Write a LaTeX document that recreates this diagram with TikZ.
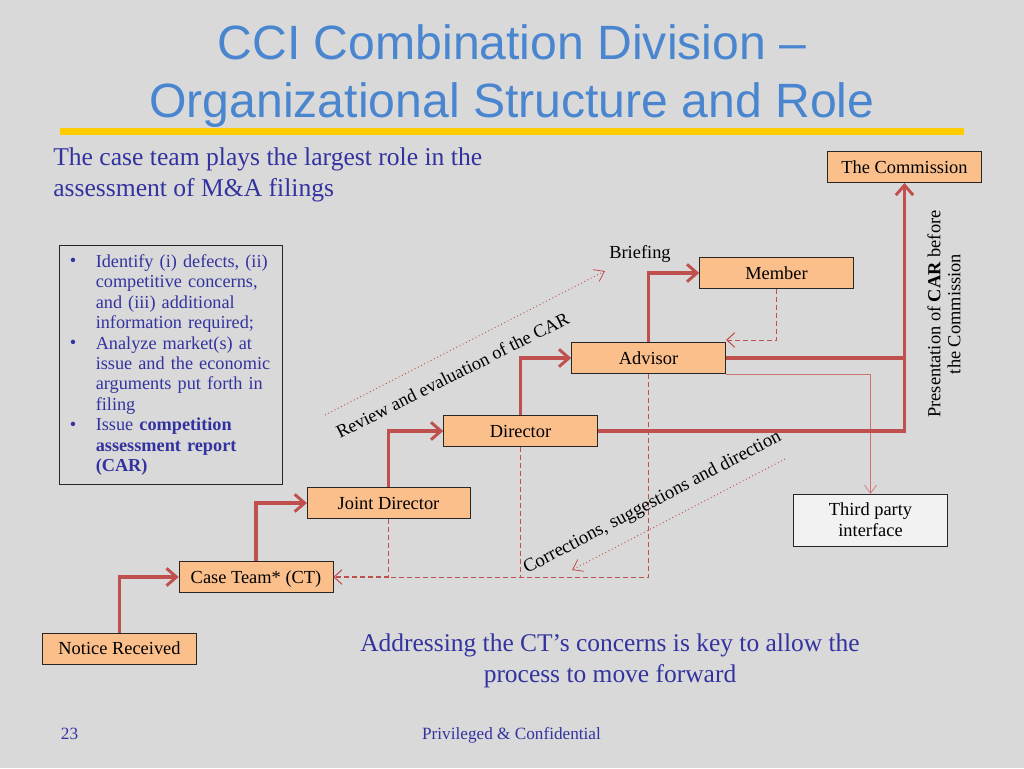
\documentclass[tikz,border=0pt]{standalone}
\usepackage{fontspec}
\setmainfont{Liberation Serif}
\newfontfamily\titlefont{Liberation Sans}
\usetikzlibrary{arrows.meta}
\definecolor{slidebg}{HTML}{D9D9D9}
\definecolor{boxfill}{HTML}{FBBF8C}
\definecolor{linered}{HTML}{C0504D}
\definecolor{titleblue}{HTML}{4A86D0}
\definecolor{textblue}{HTML}{3333A0}
\definecolor{rulegold}{HTML}{FFCC00}
\tikzset{
	stage/.style={draw=black!85,fill=boxfill,minimum width=115.5pt,minimum height=23.5pt,inner sep=0pt,text height=11pt,text depth=2pt,font=\fontsize{13.8}{15.7}\selectfont,align=center},
	up/.style={draw=linered,line width=2.6pt,-{Straight Barb[length=7.5pt,width=13pt,line width=2.2pt]}},
	plainup/.style={draw=linered,line width=2.6pt},
	back/.style={draw=linered,dashed,dash pattern=on 3.6pt off 2.4pt,line width=0.7pt},
	backtip/.style={back,-{Straight Barb[length=6pt,width=11pt,line width=0.8pt]}},
	hint/.style={draw=linered,dotted,line width=0.7pt,-{Straight Barb[length=7pt,width=10pt,line width=0.6pt,sep=0pt]}},
	lbl/.style={font=\fontsize{13.8}{15}\selectfont,align=center,inner sep=0pt}
}
\begin{document}
\begin{tikzpicture}[x=0.75pt,y=-0.75pt,>=stealth,line join=miter]
	\useasboundingbox[fill=slidebg] (0,0) rectangle (1024,768);
	% title
	\node[text=titleblue,font=\titlefont\fontsize{36.1}{43.5}\selectfont,align=center,inner sep=0pt] (title) at (512,76) {CCI Combination Division –\\Organizational Structure and Role};
	\fill[fill=rulegold] (60,128) rectangle (964,134.5);
	\node[anchor=north west,text=textblue,font=\fontsize{19.2}{23}\selectfont,align=left,inner sep=0pt] (lead) at (53,147.5) {The case team plays the largest role in the\\assessment of M\&A filings};
	% boxes
	\node[stage] (comm) at (904.5,167) {The Commission};
	\node[stage] (member) at (776.5,273) {Member};
	\node[stage] (advisor) at (648.5,358) {Advisor};
	\node[stage] (director) at (520.5,431) {Director};
	\node[stage,minimum width=122pt] (joint) at (388.5,503) {Joint Director};
	\node[stage] (team) at (256,577) {Case Team* (CT)};
	\node[stage] (notice) at (119.5,648.5) {Notice Received};
	\node[stage,fill=white!95!black,minimum height=39pt,text height=,text depth=] (third) at (870.5,520) {Third party\\interface};
	\node[draw=black!85,anchor=north west,minimum width=167pt,minimum height=179pt,inner sep=0pt] (tasks) at (59,245) {};
	\node[anchor=north west,text=textblue,inner sep=0pt,font=\fontsize{13.7}{15.35}\selectfont,text width=140pt,align=left] (taskstext) at (95.5,254) {Identify (i) defects, (ii)\\competitive concerns,\\and (iii) additional\\information required;\\Analyze market(s) at\\issue and the economic\\arguments put forth in\\filing\\Issue \textbf{competition}\\\textbf{assessment report}\\\textbf{(CAR)}};
	\node[text=textblue,lbl] (dota) at (73,262) {\textbullet};
	\node[text=textblue,lbl] (dotb) at (73,344) {\textbullet};
	\node[text=textblue,lbl] (dotc) at (73,426) {\textbullet};
	% free ends
	\coordinate (memberbend) at (776.5,340);
	\coordinate (advisortip) at (726,340);
	\coordinate (advisorout) at (726,374);
	\coordinate (thirdbend) at (870.5,374);
	\coordinate (backjoin) at (648.5,577);
	\coordinate (directorjoin) at (520.5,577);
	\coordinate (jointjoin) at (388.5,577);
	\coordinate (reviewa) at (325,415);
	\coordinate (reviewb) at (605,271);
	\coordinate (corra) at (785,459);
	\coordinate (corrb) at (572,570);
	% thin lines
	\draw[back] (advisor.south) -- (backjoin) -- (jointjoin);
	\draw[back] (director.south) -- (directorjoin);
	\draw[back] (joint.south) -- (jointjoin);
	\draw[backtip,line width=1pt] (jointjoin) -- (team.east);
	\draw[backtip] (member.south) -- (memberbend) -- (advisortip);
	\draw[draw=linered!80,line width=0.5pt,-{Straight Barb[length=6pt,width=9pt,line width=0.5pt]}] (advisorout) -- (thirdbend) -- (third.north);
	\draw[hint] (reviewa) -- (reviewb);
	\draw[hint] (corra) -- (corrb);
	% main path
	\draw[up] (notice.north) |- (team.west);
	\draw[up] (team.north) |- (joint.west);
	\draw[up] (joint.north) |- (director.west);
	\draw[up] (director.north) |- (advisor.west);
	\draw[up] (advisor.north) |- (member.west);
	\draw[up] (director.east) -| (comm.south);
	\draw[plainup] (advisor.east) -- (comm.south |- advisor.east);
	% labels
	\node[lbl] (briefing) at (640,254) {Briefing};
	\node[lbl,rotate=26.7] (reviewlbl) at (452.5,375) {Review and evaluation of the CAR};
	\node[lbl,rotate=27.7,font=\fontsize{14.1}{15}\selectfont] (corrlbl) at (652.5,503) {Corrections, suggestions and direction};
	\node[lbl,rotate=90] (preslbl) at (944,314) {Presentation of \textbf{CAR} before\\the Commission};
	\node[text=textblue,font=\fontsize{19.1}{23.5}\selectfont,align=center,inner sep=0pt] (closing) at (610,661) {Addressing the CT's concerns is key to allow the\\process to move forward};
	\node[text=textblue,font=\fontsize{12.9}{14}\selectfont,inner sep=0pt] (pagenum) at (69.5,734) {23};
	\node[text=textblue,font=\fontsize{12.9}{14}\selectfont,inner sep=0pt] (footer) at (511.5,735) {Privileged \& Confidential};
\end{tikzpicture}
\end{document}
